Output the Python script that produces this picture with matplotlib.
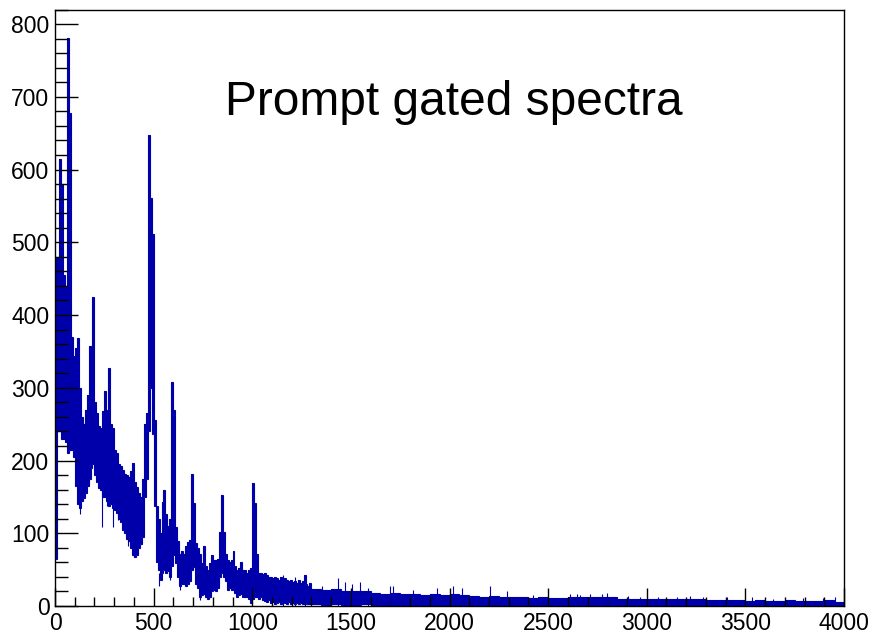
import numpy as np
import matplotlib
matplotlib.use("Agg")
import matplotlib.pyplot as plt
from matplotlib.ticker import MultipleLocator

plt.rcParams['font.family'] = ['Liberation Sans', 'DejaVu Sans']

# spectrum: 10 keV bins from 0 to 1300 keV,
# upper and lower edge of the dense histogram band
body_width = 10
body_hi = [480, 480, 615, 580, 455, 440, 781, 678, 370, 343,
           355, 368, 300, 260, 250, 270, 290, 357, 330, 425,
           280, 265, 247, 245, 268, 295, 270, 327, 250, 245,
           215, 210, 195, 192, 187, 182, 180, 178, 185, 196,
           170, 164, 155, 150, 175, 250, 265, 647, 561, 511,
           256, 137, 120, 100, 143, 160, 127, 110, 120, 308,
           269, 109, 90, 72, 75, 72, 82, 88, 91, 182,
           141, 86, 80, 72, 59, 82, 55, 49, 59, 70,
           63, 63, 65, 102, 153, 102, 72, 63, 60, 63,
           75, 55, 49, 52, 61, 50, 49, 45, 50, 52,
           169, 141, 72, 45, 46, 44, 45, 42, 40, 40,
           38, 40, 38, 36, 40, 35, 38, 36, 34, 36,
           33, 35, 32, 36, 31, 34, 43, 30, 28, 31]
body_lo = [65, 240, 240, 230, 230, 225, 210, 215, 215, 205,
           165, 140, 135, 145, 148, 155, 165, 175, 190, 195,
           180, 170, 162, 160, 150, 150, 145, 137, 140, 135,
           132, 128, 120, 115, 105, 100, 92, 90, 80, 70,
           68, 70, 80, 85, 95, 150, 175, 240, 300, 237,
           137, 60, 50, 36, 45, 50, 45, 48, 40, 55,
           70, 59, 40, 27, 30, 30, 27, 30, 35, 50,
           54, 30, 25, 13, 15, 17, 13, 10, 13, 20,
           22, 20, 25, 40, 45, 40, 35, 22, 25, 22,
           25, 18, 13, 15, 17, 13, 12, 13, 10, 4,
           10, 12, 13, 10, 12, 8, 7, 6, 8, 4,
           5, 3, 4, 5, 3, 5, 4, 3, 5, 3,
           4, 3, 4, 3, 4, 3, 3, 4, 3, 3]

# tail from 1300 to 4000 keV in 50 keV bins
tail_width = 50
tail_hi = [24, 22, 23, 21, 20, 21, 18, 17, 18, 17,
           16, 15, 16, 15, 16, 15, 14, 13, 14, 13,
           12, 12, 11, 12, 11, 11, 12, 13, 13, 13,
           12, 10, 10, 10, 10, 9, 10, 9, 10, 9,
           8, 8, 8, 8, 7, 8, 7, 7, 8, 7,
           7, 7, 8, 6]
tail_lo = [3, 2, 3, 2, 2, 3, 2, 2, 2, 2,
           2, 2, 1, 2, 2, 1, 2, 2, 1, 2,
           1, 2, 1, 1, 2, 1, 1, 2, 1, 1,
           1, 1, 1, 1, 1, 1, 1, 1, 1, 1,
           1, 1, 1, 1, 1, 1, 1, 1, 1, 1,
           1, 1, 1, 1]

# single-channel spikes sticking out of the tail
spike_e = [1158, 1217, 1268, 1352, 1437, 1471, 1504, 1547, 1589, 1699,
           1716, 1817, 1935, 2020, 2062, 2206, 2290, 2425, 2611, 2645,
           2662, 2712, 2772, 2797, 2907, 2966, 3059, 3152, 3219, 3287,
           3405, 3532, 3642, 3794, 3896, 3955]
spike_h = [43, 40, 43, 27, 38, 33, 30, 33, 25, 27,
           27, 22, 25, 27, 25, 27, 20, 15, 17, 17,
           15, 16, 17, 18, 14, 13, 13, 13, 14, 13,
           12, 12, 10, 11, 11, 12]

# single-channel dips below the band
dip_e = [125, 238, 262, 292, 318, 372, 402, 528, 585, 636, 733]
dip_v = [127, 109, 137, 109, 118, 82, 68, 27, 36, 22, 8]
dip_top = [150, 165, 150, 140, 135, 95, 75, 45, 45, 35, 20]

title = "Prompt gated spectra"
line_color = '#0000aa'

body_edges = np.arange(len(body_hi) + 1) * body_width
tail_edges = body_edges[-1] + np.arange(1, len(tail_hi) + 1) * tail_width
edges = np.concatenate([body_edges, tail_edges])
hi = np.array(body_hi + tail_hi, dtype=float)
lo = np.array(body_lo + tail_lo, dtype=float)

fig = plt.figure(figsize=(8.71, 6.33), dpi=100)
ax = fig.add_axes([55/871, 1 - 606/633, 789/871, 596.5/633])

ax.stairs(hi, edges, baseline=lo, fill=True, color=line_color,
          linewidth=0)
ax.stairs(hi, edges, baseline=lo, fill=False, color=line_color,
          linewidth=0.8)
ax.vlines(spike_e, 0, spike_h, color=line_color, linewidth=0.8)
ax.vlines(dip_e, dip_v, dip_top, color=line_color, linewidth=0.8)

ax.set_xlim(0, 4000)
ax.set_ylim(0, 820)
ax.xaxis.set_major_locator(MultipleLocator(500))
ax.xaxis.set_minor_locator(MultipleLocator(100))
ax.yaxis.set_major_locator(MultipleLocator(100))
ax.yaxis.set_minor_locator(MultipleLocator(20))

ax.tick_params(axis='both', which='both', direction='in', colors='black',
               width=1.0, labelsize=16.5)
ax.tick_params(axis='x', which='major', length=13, pad=4)
ax.tick_params(axis='x', which='minor', length=6.5)
ax.tick_params(axis='y', which='major', length=16.5, pad=4)
ax.tick_params(axis='y', which='minor', length=9.5)
for spine in ax.spines.values():
    spine.set_linewidth(1.0)
    spine.set_color('black')

fig.text(225/871, 1 - 115/633, title, fontsize=34.5, ha='left',
         va='baseline', color='black')

fig.savefig('out.png', dpi=100, facecolor='white')
